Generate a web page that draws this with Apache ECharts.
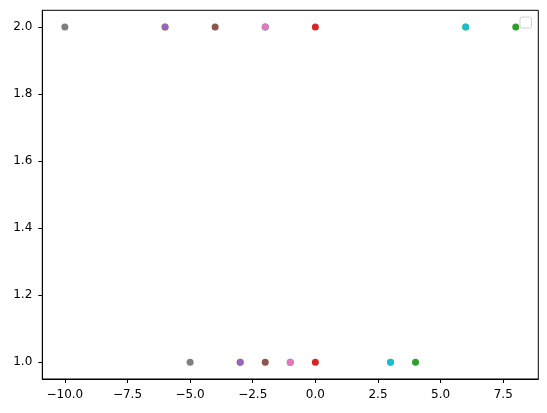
<!DOCTYPE html>
<html>
<head>
<meta charset="utf-8">
<script src="https://cdn.jsdelivr.net/npm/echarts@6/dist/echarts.min.js"></script>
<style>html,body{margin:0;padding:0;background:#fff}#c{width:547px;height:413px}</style>
</head>
<body>
<div id="c"></div>
<script>
// Each series: point at y=1 (x value) and point at y=2 (doubled x value)
const seriesNames = ['C0','C1','C2','C3','C4','C5','C6','C7','C8','C9'];
const seriesColors = ['#1f77b4','#ff7f0e','#2ca02c','#d62728','#9467bd','#8c564b','#e377c2','#7f7f7f','#bcbd22','#17becf'];
const xAtY1 = [-1, -3, 4, 0, -3, -2, -1, -5, 3, 3];
const xAtY2 = [-2, -6, 8, 0, -6, -4, -2, -10, 6, 6];
const yLevels = [1, 2];
const xTicks = [-10, -7.5, -5, -2.5, 0, 2.5, 5, 7.5];
const yTicks = [1.0, 1.2, 1.4, 1.6, 1.8, 2.0];

const fmt = v => Number(v).toFixed(1).replace('-', '\u2212');
const font = 'DejaVu Sans';

const series = seriesNames.map((n, i) => ({
  name: n,
  type: 'scatter',
  symbolSize: 7,
  itemStyle: { color: seriesColors[i], opacity: 1 },
  data: [[xAtY1[i], yLevels[0]], [xAtY2[i], yLevels[1]]],
  z: 2 + i,
  emphasis: { disabled: true }
}));

const chart = echarts.init(document.getElementById('c'), null, { renderer: 'canvas' });
chart.setOption({
  animation: false,
  backgroundColor: '#fff',
  grid: { left: 42.3, top: 10.3, width: 496, height: 368.7, show: true, borderColor: '#000', borderWidth: 1, backgroundColor: 'transparent' },
  xAxis: {
    type: 'value', min: -10.9, max: 8.9,
    axisLine: { show: true, onZero: false, lineStyle: { color: '#000', width: 1 } },
    axisTick: { show: true, length: 4, lineStyle: { color: '#000' }, customValues: xTicks },
    axisLabel: { customValues: xTicks, formatter: fmt, color: '#000', fontFamily: font, fontSize: 12, margin: 10 },
    splitLine: { show: false }
  },
  yAxis: {
    type: 'value', min: 0.95, max: 2.05,
    axisLine: { show: true, onZero: false, lineStyle: { color: '#000', width: 1 } },
    axisTick: { show: true, length: 4, lineStyle: { color: '#000' }, customValues: yTicks },
    axisLabel: { customValues: yTicks, formatter: fmt, color: '#000', fontFamily: font, fontSize: 12, margin: 10 },
    splitLine: { show: false }
  },
  graphic: [{
    type: 'rect', shape: { x: 520, y: 17, width: 11.5, height: 11, r: 2 },
    style: { fill: 'rgba(255,255,255,0.8)', stroke: '#d0d0d0', lineWidth: 1 }, z: 100
  }],
  series: series
});
</script>
</body>
</html>
